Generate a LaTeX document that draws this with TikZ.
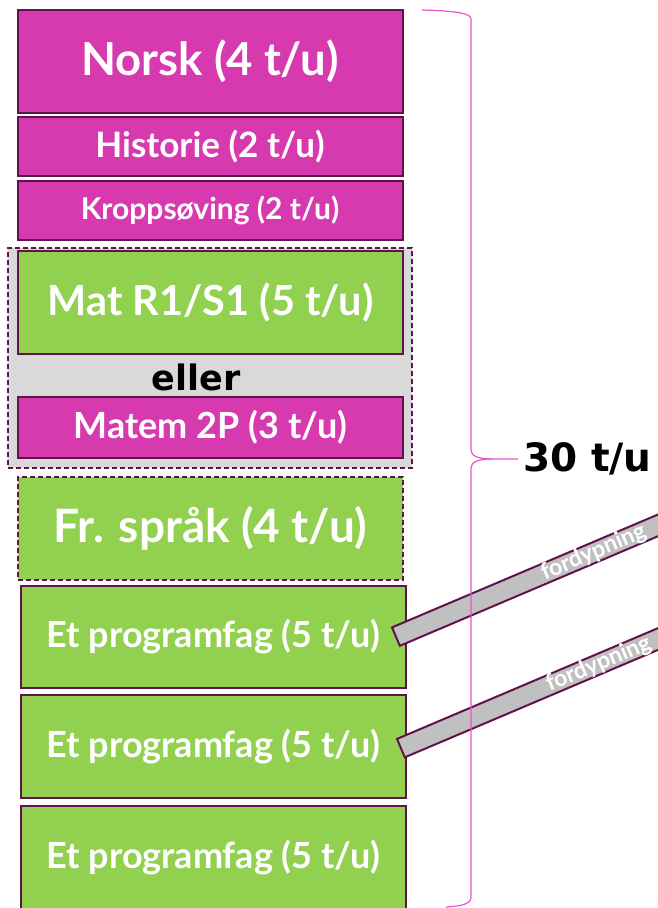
\documentclass[tikz,border=0pt]{standalone}
\usepackage{fontspec}
\setmainfont{Lato}
\newfontfamily\fagfont{Lato}
\newfontfamily\tykkfont{DejaVu Sans}
\usetikzlibrary{positioning,calc}

\definecolor{fagrosa}{RGB}{214,58,174}
\definecolor{faggronn}{RGB}{146,208,80}
\definecolor{fagkant}{RGB}{96,18,76}
\definecolor{grpgraa}{RGB}{217,217,217}
\definecolor{fdgraa}{RGB}{192,192,192}
\definecolor{klamme}{RGB}{232,84,204}

\tikzset{
  fag/.style={draw=fagkant,line width=2pt,text=white,minimum width=385pt,anchor=north,inner sep=0},
  rosafag/.style={fag,fill=fagrosa},
  gronnfag/.style={fag,fill=faggronn},
  stiplet/.style={dash pattern=on 5pt off 3pt},
  fordyp/.style={draw=fagkant,line width=2pt,fill=fdgraa,minimum width=330pt,minimum height=20pt,inner sep=0,anchor=west},
  fdtekst/.style={text=white,font=\fagfont\bfseries\fontsize{23}{23}\selectfont,anchor=center,inner sep=0},
}

\begin{document}
\begin{tikzpicture}[x=1pt,y=-1pt]
    \useasboundingbox (0,0) rectangle (658,908);
    \clip (0,0) rectangle (658,908);
    \fill[white] (0,0) rectangle (658,908);

    \node(norsk)[rosafag,minimum height=103pt,font=\fagfont\bfseries\fontsize{45.5}{45.5}\selectfont] at (210,9) {Norsk (4 t/u)};
    \node(hist)[rosafag,minimum height=59pt,font=\fagfont\bfseries\fontsize{35}{35}\selectfont] at ([yshift=-2pt]norsk.south) {Historie (2 t/u)};
    \node(kropp)[rosafag,minimum height=59pt,font=\fagfont\bfseries\fontsize{30}{30}\selectfont] at ([yshift=-3pt]hist.south) {Kroppsøving (2 t/u)};

    % valget mellom matematikkfagene
    \node(valg)[draw=fagkant,line width=1.5pt,stiplet,fill=grpgraa,minimum width=404pt,minimum height=220pt,anchor=north,inner sep=0] at (210,247) {};
    \node(mat)[gronnfag,minimum height=103pt,font=\fagfont\bfseries\fontsize{41.5}{41.5}\selectfont] at (210.5,250) {Mat R1/S1 (5 t/u)};
    \node(eller)[font=\tykkfont\bfseries\fontsize{35}{35}\selectfont,inner sep=0] at (196,377) {eller};
    \node(matem)[rosafag,minimum height=61pt,font=\fagfont\bfseries\fontsize{36}{36}\selectfont] at (210.5,396) {Matem 2P (3 t/u)};

    \node(frsprak)[gronnfag,stiplet,minimum height=103pt,font=\fagfont\bfseries\fontsize{46}{46}\selectfont] at (210.5,476) {Fr. språk (4 t/u)};
    \node(prog1)[gronnfag,minimum height=102pt,font=\fagfont\bfseries\fontsize{36}{36}\selectfont] at (213.5,585) {Et programfag (5 t/u)};
    \node(prog2)[gronnfag,minimum height=103pt,font=\fagfont\bfseries\fontsize{36}{36}\selectfont] at ([yshift=-5pt]prog1.south) {Et programfag (5 t/u)};
    \node(prog3)[gronnfag,minimum height=104pt,font=\fagfont\bfseries\fontsize{36}{36}\selectfont] at ([yshift=-6pt]prog2.south) {Et programfag (5 t/u)};

    % fordypning
    \node(fd1)[fordyp,rotate=23] at ([xshift=-12pt]prog1.east) {};
    \node(fd1txt)[fdtekst,rotate=23] at ($(fd1.west)!0.65!(fd1.east)$) {fordypning};
    \node(fd2)[fordyp,rotate=23] at ([xshift=-7pt,yshift=-2pt]prog2.east) {};
    \node(fd2txt)[fdtekst,rotate=23] at ($(fd2.west)!0.65!(fd2.east)$) {fordypning};

    % klamme
    \coordinate(spiss) at (518,459);
    \draw[klamme,line width=1.2pt] (422,10) .. controls (455,11) and (471,13) .. (471,19) -- (471,450) .. controls (471,456) and (478,459) .. (492,459) -- (spiss);
    \draw[klamme,line width=1.2pt] (492,459) .. controls (478,459) and (471,462) .. (471,468) -- (471,897) .. controls (471,904) and (462,906) .. (446,907);
    \node(timer)[right=5pt of spiss,inner sep=0,font=\tykkfont\bfseries\fontsize{39}{39}\selectfont] {30 t/u};
\end{tikzpicture}
\end{document}
